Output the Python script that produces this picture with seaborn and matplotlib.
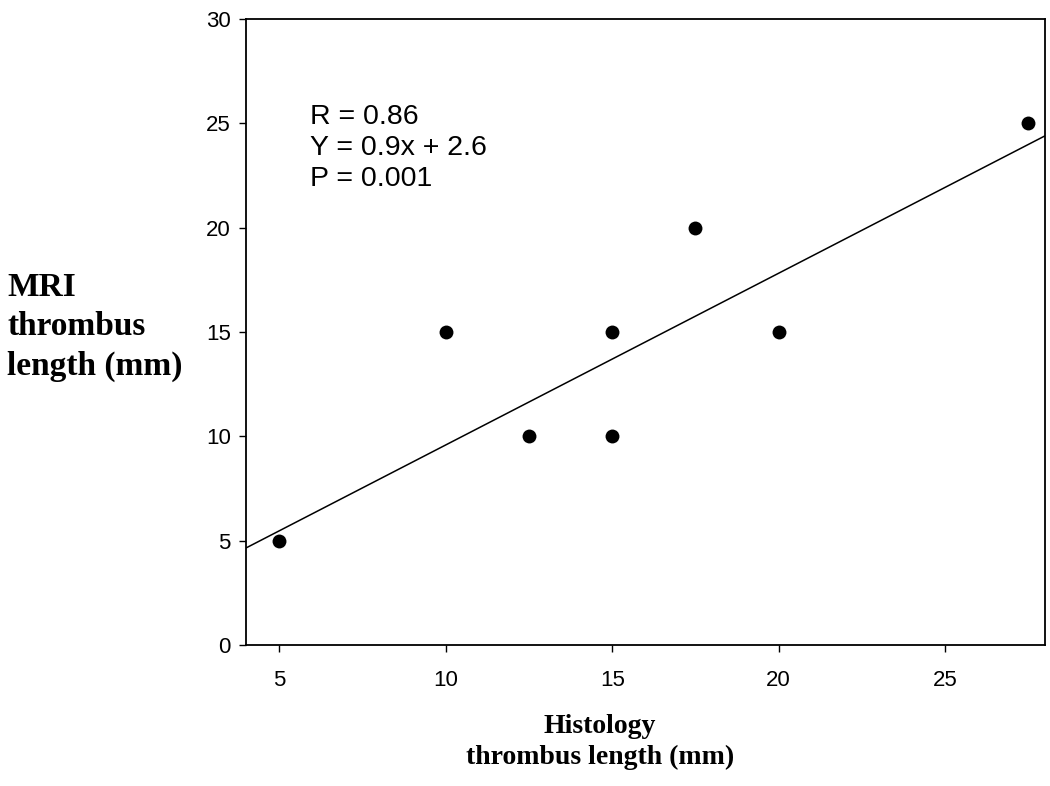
import numpy as np
import pandas as pd
import matplotlib
matplotlib.use('Agg')
import matplotlib.pyplot as plt
import seaborn as sns

# ── Data ───────────────────────────────────────────────────────────────
histology_mm = [5, 10, 12.5, 15, 15, 17.5, 20, 27.5]
mri_mm = [5, 15, 10, 15, 10, 20, 15, 25]

# fitted line as drawn in the figure (end points at the axis limits)
fit_x = [4, 28]
fit_y = [4.65, 24.4]

stats_lines = ['R = 0.86', 'Y = 0.9x + 2.6', 'P = 0.001']

x_ticks = [5, 10, 15, 20, 25]
y_ticks = [0, 5, 10, 15, 20, 25, 30]

df = pd.DataFrame({'histology': histology_mm, 'mri': mri_mm})
fit = pd.DataFrame({'x': fit_x, 'y': fit_y})

sns.set_theme(style='ticks')
plt.rcParams['font.family'] = ['Liberation Sans', 'DejaVu Sans']
plt.rcParams['text.color'] = 'black'

fig = plt.figure(figsize=(10.5, 7.86), dpi=100)
ax = fig.add_axes([0.2343, 0.1794, 0.7609, 0.7964])

sns.lineplot(data=fit, x='x', y='y', color='black', lw=1.1, ax=ax)
sns.scatterplot(data=df, x='histology', y='mri', color='black', s=100,
                edgecolor='black', linewidth=0, ax=ax, zorder=3)

ax.set_xlim(4, 28)
ax.set_ylim(0, 30)
ax.set_xticks(x_ticks)
ax.set_yticks(y_ticks)
ax.set_xlabel('')
ax.set_ylabel('')
ax.tick_params(axis='x', length=5, width=1, pad=13, labelsize=16, colors='black')
ax.tick_params(axis='y', length=5, width=1, pad=6, labelsize=16, colors='black')
for side in ['left', 'right', 'top', 'bottom']:
    ax.spines[side].set_visible(True)
    ax.spines[side].set_color('black')
    ax.spines[side].set_linewidth(1.3)

# stats annotation
ax.text(0.08, 0.865, '\n'.join(stats_lines), transform=ax.transAxes,
        fontsize=20.5, va='top', ha='left', linespacing=1.25, color='black')

# axis labels (serif bold, placed like the original)
serif = ['Liberation Serif', 'DejaVu Serif']
fig.text(7 / 1050, 1 - 327 / 786, 'MRI\nthrombus\nlength (mm)', family=serif,
         fontweight='bold', fontsize=24, ha='left', va='center', linespacing=1.35,
         color='black')
fig.text(600 / 1050, 1 - 742 / 786, 'Histology\nthrombus length (mm)', family=serif,
         fontweight='bold', fontsize=20, ha='center', va='center', linespacing=1.32,
         multialignment='center', color='black')

fig.savefig('out.png', dpi=100)
